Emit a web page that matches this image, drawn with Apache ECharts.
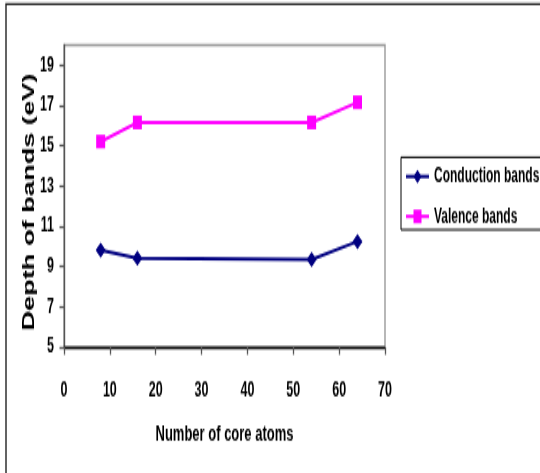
<!DOCTYPE html>
<html>
<head>
<meta charset="utf-8">
<script src="https://cdn.jsdelivr.net/npm/echarts@6/dist/echarts.min.js"></script>
<style>
  html { overflow: hidden; }
  html, body { margin: 0; padding: 0; background: #fff; width: 540px; height: 473px; }
  /* The chart is laid out in a short box and stretched to full height. */
  #chart {
    width: 540px;
    height: 278px;
    transform-origin: 0 0;
    transform: scaleY(1.7014);
  }
</style>
</head>
<body>
<div id="chart"></div>
<script>
// Band depths versus cluster size
const coreAtoms = [8, 16, 54, 64];
const conductionBands = [9.82, 9.42, 9.35, 10.25];
const valenceBands = [15.21, 16.16, 16.16, 17.16];
const xTicks = [0, 10, 20, 30, 40, 50, 60, 70];
const yTicks = [5, 7, 9, 11, 13, 15, 17, 19];

const sans = '"Liberation Sans", Arial, sans-serif';

const pairs = ys => coreAtoms.map((x, i) => [x, ys[i]]);

const chart = echarts.init(document.getElementById('chart'), null, { renderer: 'canvas' });

chart.setOption({
  animation: false,
  backgroundColor: '#ffffff',
  grid: {
    left: 64, right: 155, top: 26.5, bottom: 74,
    containLabel: false,
    show: true,
    borderColor: '#9a9a9a',
    borderWidth: 1.4,
    backgroundColor: '#ffffff'
  },
  legend: {
    orient: 'vertical',
    left: 401,
    top: 92.4,
    padding: [5.3, 80, 1.8, 4],
    borderColor: '#000',
    borderWidth: 1,
    itemWidth: 23,
    itemHeight: 10,
    itemGap: 11.5,
    textStyle: {
      fontFamily: sans, fontWeight: 'bold', fontSize: 12,
      color: '#000', lineHeight: 12
    },
    data: ['Conduction bands', 'Valence bands']
  },
  xAxis: {
    type: 'value',
    min: 0, max: 70, interval: 10,
    name: 'Number of core atoms',
    nameLocation: 'middle',
    nameGap: 45,
    nameMoveOverlap: false,
    nameTextStyle: {
      fontFamily: sans, fontWeight: 'bold', fontSize: 13, color: '#000'
    },
    axisLine: { show: true, onZero: false, lineStyle: { color: '#000', width: 1.3 } },
    axisTick: { show: true, length: 4.5, lineStyle: { color: '#555', width: 1.3 } },
    axisLabel: {
      margin: 19.5,
      customValues: xTicks,
      fontFamily: sans, fontWeight: 'bold', fontSize: 12.5, color: '#000'
    },
    splitLine: { show: false }
  },
  yAxis: {
    type: 'value',
    min: 5, max: 20, interval: 2,
    name: 'Depth of bands (eV)',
    nameLocation: 'middle',
    nameRotate: 90,
    nameGap: 26,
    nameMoveOverlap: false,
    nameTextStyle: {
      fontFamily: sans, fontWeight: 'bold', fontSize: 16, color: '#000',
      padding: [0, 7, 0, 0]
    },
    axisLine: { show: true, onZero: false, lineStyle: { color: '#555', width: 1.4 } },
    axisTick: { show: true, length: 4.5, customValues: yTicks, lineStyle: { color: '#555', width: 1.3 } },
    axisLabel: {
      margin: 10,
      customValues: yTicks,
      fontFamily: sans, fontWeight: 'bold', fontSize: 12.5, color: '#000'
    },
    splitLine: { show: false }
  },
  graphic: [
    {
      type: 'rect',
      silent: true,
      z: -10,
      shape: { x: 6, y: 2.4, width: 700, height: 400 },
      style: { fill: 'none', stroke: '#222', lineWidth: 1.4 }
    }
  ],
  series: [
    {
      name: 'Conduction bands',
      type: 'line',
      data: pairs(conductionBands),
      symbol: 'diamond',
      symbolSize: [10, 9],
      lineStyle: { color: '#000080', width: 2 },
      itemStyle: { color: '#000080' }
    },
    {
      name: 'Valence bands',
      type: 'line',
      data: pairs(valenceBands),
      symbol: 'rect',
      symbolSize: [9, 8],
      lineStyle: { color: '#ff00ff', width: 2 },
      itemStyle: { color: '#ff00ff' }
    }
  ]
});
</script>
</body>
</html>
